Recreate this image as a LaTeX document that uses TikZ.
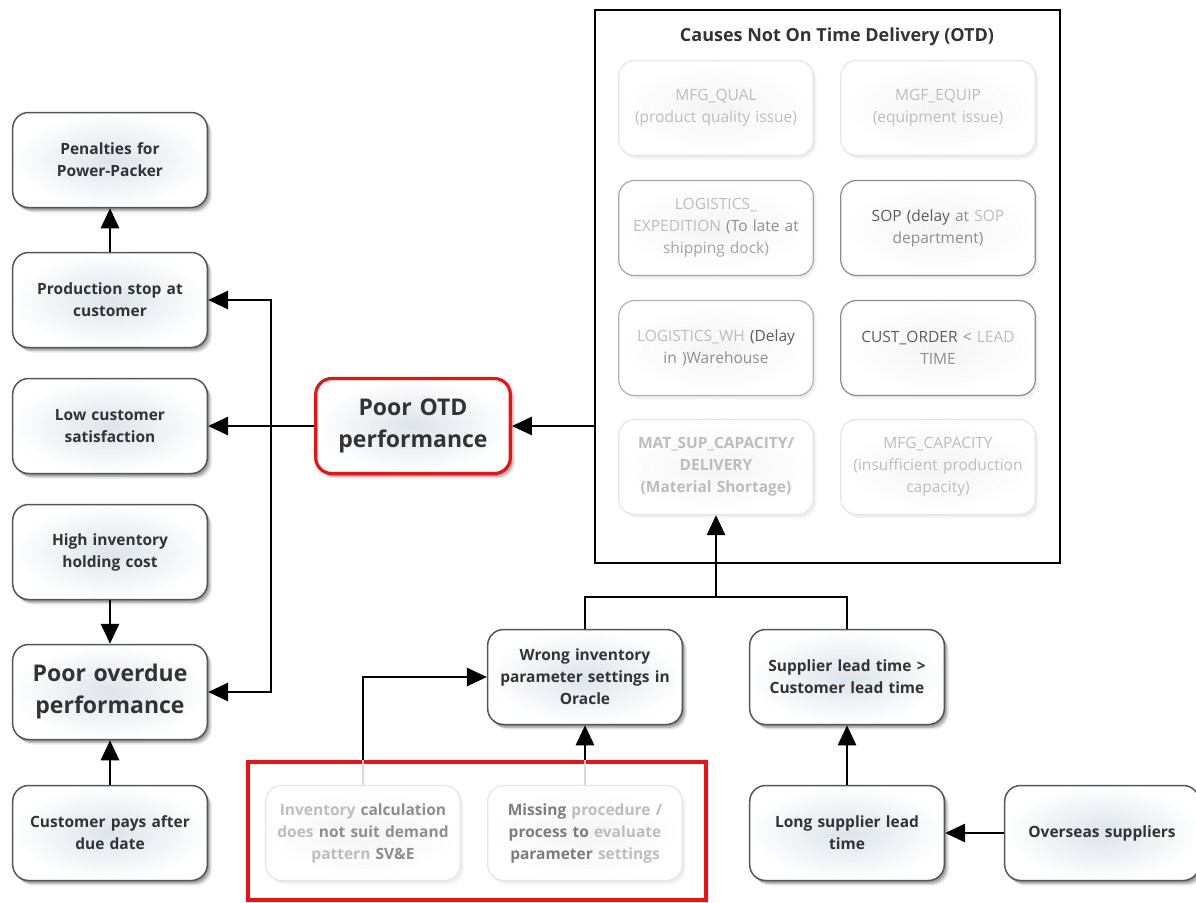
\documentclass[tikz,border=0pt]{standalone}
\usepackage{fontspec}
\setmainfont{Open Sans}
\usetikzlibrary{arrows.meta,shadows}

\definecolor{txt}{HTML}{333333}
\definecolor{edge}{HTML}{555555}
\definecolor{glow}{HTML}{DDE4EB}
\definecolor{faint}{HTML}{BDBDBD}
\definecolor{mid}{HTML}{8E8E8E}
\definecolor{deep}{HTML}{5C5C5C}
\definecolor{alarm}{HTML}{EE1111}

\tikzset{
  soft shadow/.style={
    drop shadow={shadow xshift=1.5pt,shadow yshift=-2pt,opacity=.55},
    drop shadow={shadow xshift=3pt,shadow yshift=-3.5pt,opacity=.40},
    drop shadow={shadow xshift=4.5pt,shadow yshift=-5pt,opacity=.18}},
  faint shadow/.style={
    drop shadow={shadow xshift=2pt,shadow yshift=-2.5pt,opacity=.08},
    drop shadow={shadow xshift=3.5pt,shadow yshift=-4pt,opacity=.06}},
  cardbase/.style={rounded corners=16pt, minimum width=194pt, minimum height=95pt,
    text width=188pt, align=center},
  card/.style={cardbase, soft shadow, draw=edge, line width=1.5pt,
    inner color=glow, outer color=white, text=txt,
    font=\fontsize{15.5}{22}\selectfont\bfseries},
  bigtext/.style={font=\fontsize{23}{32}\selectfont\bfseries},
  ghost/.style={cardbase, faint shadow, draw=black!10, line width=1.2pt,
    inner color=black!4, outer color=white, text=faint,
    font=\fontsize{15.5}{22}\selectfont},
  link/.style={line width=2.8pt, -{Triangle[length=20pt,width=18pt]}},
  wire/.style={line width=2.8pt},
  fadewire/.style={line width=2.2pt, draw=black!15},
}

\begin{document}
\begin{tikzpicture}[x=1pt,y=-1pt]
\useasboundingbox (0,0) rectangle (1196,902);

% effects column
\node[card] (pen)  at (110,160) {Penalties for\\Power-Packer};
\node[card] (stop) at (110,300) {Production stop at\\customer};
\node[card] (low)  at (110,426) {Low customer\\satisfaction};
\node[card] (hic)  at (110,552) {High inventory\\holding cost};
\node[card,bigtext] (pod) at (110,692) {Poor overdue\\performance};
\node[card] (pay)  at (110,833) {Customer pays after\\due date};

% central problem
\node[card,bigtext,draw=alarm,line width=3.2pt] (otd) at (413,426) {Poor OTD\\performance};

% causes frame
\node[draw,line width=2.5pt,minimum width=465pt,minimum height=553pt] (causes) at (827.5,286.5) {};
\node[font=\fontsize{18}{22}\selectfont\bfseries,text=txt] (ctitle) at (837,37) {Causes Not On Time Delivery (OTD)};

\node[ghost] (c1) at (716,108) {MFG\_QUAL\\(product quality issue)};
\node[ghost] (c2) at (938,108) {MGF\_EQUIP\\(equipment issue)};
\node[ghost,draw=black!35] (c3) at (716,228) {LOGISTICS\_\\EXPEDITION \textcolor{mid}{(To late at}\\\textcolor{mid!80}{shipping dock)}};
\node[ghost,draw=black!45] (c4) at (938,228) {\textcolor{deep}{SOP (delay} \textcolor{mid}{at} SOP\\\textcolor{mid}{department)}};
\node[ghost,draw=black!30] (c5) at (716,348) {LOGISTICS\_WH \textcolor{deep}{(Delay}\\\textcolor{mid}{in )Warehouse}};
\node[ghost,draw=black!45] (c6) at (938,348) {\textcolor{deep}{CUST\_ORDER} \textcolor{mid}{<} LEAD\\\textcolor{mid}{TIME}};
\node[ghost] (c7) at (716,467) {\bfseries MAT\_SUP\_CAPACITY/\\DELIVERY\\(Material Shortage)};
\node[ghost] (c8) at (938,467) {MFG\_CAPACITY\\(insufficient production\\capacity)};

% root causes
\node[card] (wrong) at (585,677) {Wrong inventory\\parameter settings in\\Oracle};
\node[card] (sup)   at (847,677) {Supplier lead time >\\Customer lead time};
\node[card] (long)  at (847,833) {Long supplier lead\\time};
\node[card] (over)  at (1102,833) {Overseas suppliers};

% highlighted group
\node[draw=alarm,fill=white,line width=3.5pt,minimum width=458pt,minimum height=138pt,
      drop shadow={shadow xshift=3pt,shadow yshift=-3pt,opacity=.12}] (grp) at (477,831) {};
\node[ghost,font=\fontsize{15.5}{22}\selectfont\bfseries] (calc) at (363,833)
  {Inventory \textcolor{mid}{calculation}\\does \textcolor{mid}{not suit demand}\\pattern \textcolor{mid}{SV\&E}};
\node[ghost,font=\fontsize{15.5}{22}\selectfont\bfseries] (miss) at (585,833)
  {\textcolor{deep!80}{Missing} procedure /\\\textcolor{deep!80}{process to} evaluate\\\textcolor{deep!80}{parameter} settings};

% connectors
\draw[link] (causes.west |- otd.east) -- (otd.east);
\draw[link] (otd.west) -- (low.east);
\coordinate (split) at (271,426);
\draw[link] (split) |- (stop.east);
\draw[link] (split) |- (pod.east);
\draw[link] (stop.north) -- (pen.south);
\draw[link] (hic.south) -- (pod.north);
\draw[link] (pay.north) -- (pod.south);

\coordinate (merge) at (716,597);
\draw[link] (merge) -- (c7.south);
\draw[wire] (wrong.north) |- (merge);
\draw[wire] (sup.north) |- (merge);
\draw[link] (long.north) -- (sup.south);
\draw[link] (over.west) -- (long.east);

\draw[fadewire] (calc.north) -- (calc.north |- grp.north);
\draw[link] (calc.north |- grp.north) |- (wrong.west);
\draw[fadewire] (miss.north) -- (miss.north |- grp.north);
\draw[link] (miss.north |- grp.north) -- (wrong.south);
\end{tikzpicture}
\end{document}
